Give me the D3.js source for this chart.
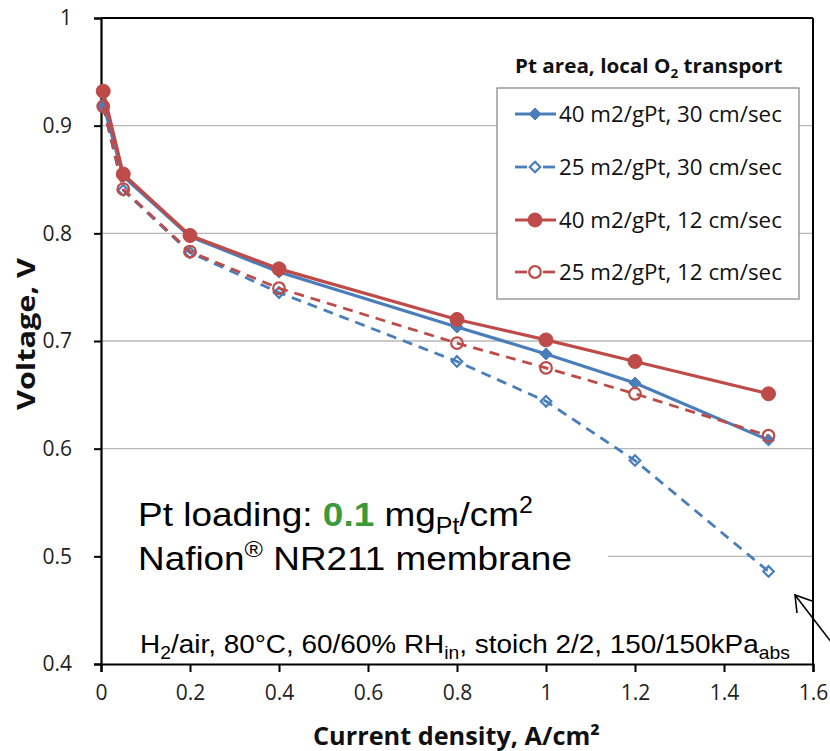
<!DOCTYPE html>
<html><head><meta charset="utf-8">
<script src="https://cdn.jsdelivr.net/npm/d3@7"></script>
<style>
html,body{margin:0;padding:0;background:#fff;}
svg{display:block;}
</style></head>
<body>
<svg id="chart" width="830" height="751"></svg>
<script>
// ---- data ----
const currentDensity = [0.005, 0.05, 0.2, 0.4, 0.8, 1.0, 1.2, 1.5];
const v40_30 = [0.920, 0.853, 0.797, 0.764, 0.713, 0.688, 0.661, 0.608];
const v25_30 = [0.918, 0.840, 0.782, 0.745, 0.681, 0.644, 0.589, 0.486];
const v40_12 = [0.932, 0.855, 0.798, 0.767, 0.720, 0.701, 0.681, 0.651];
const v25_12 = [0.918, 0.841, 0.783, 0.749, 0.698, 0.675, 0.651, 0.612];
const seriesNames = ["40 m2/gPt, 30 cm/sec", "25 m2/gPt, 30 cm/sec", "40 m2/gPt, 12 cm/sec", "25 m2/gPt, 12 cm/sec"];
const xTicks = [0, 0.2, 0.4, 0.6, 0.8, 1, 1.2, 1.4, 1.6];
const yTicks = [0.4, 0.5, 0.6, 0.7, 0.8, 0.9, 1];

const BLUE = "#4A7EBB", RED = "#BE4B48";
const series = [
  {name: seriesNames[0], values: v40_30, color: BLUE, dashed: false, marker: "diamond", filled: true},
  {name: seriesNames[1], values: v25_30, color: BLUE, dashed: true, marker: "diamond", filled: false},
  {name: seriesNames[2], values: v40_12, color: RED, dashed: false, marker: "circle", filled: true},
  {name: seriesNames[3], values: v25_12, color: RED, dashed: true, marker: "circle", filled: false}
];

const svg = d3.select("#chart");
const x = d3.scaleLinear().domain([0, 1.6]).range([101, 813]);
const y = d3.scaleLinear().domain([0.4, 1]).range([664, 18]);
const calib = "'Open Sans', Lato, sans-serif";
const arial = "'Liberation Sans', Arial, sans-serif";

// fit helper: horizontally scale text to a target width
function fit(t, x0, w) {
  const cw = t.node().getBBox().width;
  const k = w / cw;
  t.attr("transform", `translate(${x0},0) scale(${k},1) translate(${-x0},0)`);
}

// gridlines
svg.append("g").selectAll("line").data(yTicks.filter(t => t > 0.4 && t < 1)).join("line")
  .attr("x1", x(0)).attr("x2", x(1.6)).attr("y1", d => y(d)).attr("y2", d => y(d))
  .attr("stroke", "#b8b8b8").attr("stroke-width", 1.3);

// white box behind annotation (hides part of gridline)
svg.append("rect").attr("x", x(0) + 1).attr("y", 488).attr("width", 506).attr("height", 90).attr("fill", "#fff");

// frame top/right
svg.append("line").attr("x1", x(0)).attr("x2", x(1.6)).attr("y1", y(1)).attr("y2", y(1)).attr("stroke", "#000").attr("stroke-width", 2);
svg.append("line").attr("x1", x(1.6)).attr("x2", x(1.6)).attr("y1", y(1)).attr("y2", y(0.4)).attr("stroke", "#000").attr("stroke-width", 2);

// axes
const yAxis = d3.axisLeft(y).tickValues(yTicks).tickFormat(d => d3.format("")(+d.toFixed(1))).tickSize(7).tickPadding(22);
const gy = svg.append("g").attr("transform", `translate(${x(0)},0)`).call(yAxis);
const xAxis = d3.axisBottom(x).tickValues(xTicks).tickFormat(d => d3.format("")(+d.toFixed(1))).tickSize(8).tickPadding(13);
const gx = svg.append("g").attr("transform", `translate(0,${y(0.4)})`).call(xAxis);
[gx, gy].forEach(g => {
  g.select(".domain").attr("stroke", "#000").attr("stroke-width", 2.2);
  g.selectAll(".tick line").attr("stroke", "#000").attr("stroke-width", 2);
  g.selectAll(".tick text").attr("font-family", calib).attr("font-size", 21).attr("fill", "#222");
});

// axis titles
const xt = svg.append("text").attr("x", 313).attr("y", 745)
  .attr("font-family", calib).attr("font-weight", "bold").attr("font-size", 25).attr("fill", "#111")
  .text("Current density, A/cm²");
fit(xt, 313, 287);
const ytTitle = svg.append("text").attr("x", 0).attr("y", 0)
  .attr("font-family", calib).attr("font-weight", "bold").attr("font-size", 25).attr("fill", "#111")
  .text("Voltage, V");
{
  const w = ytTitle.node().getBBox().width;
  const k = 153 / w;
  ytTitle.attr("transform", `translate(35,410) rotate(-90) scale(${k},1)`);
}

// series
const line = d3.line().x((d, i) => x(currentDensity[i])).y(d => y(d));
const diamond = s => `M0,${-s}L${s},0L0,${s}L${-s},0Z`;
function drawMarker(g, s, cx, cy, legend) {
  if (s.marker === "circle") {
    g.append("circle").attr("cx", cx).attr("cy", cy).attr("r", s.filled ? 7 : 5.8)
      .attr("fill", s.filled ? s.color : (legend ? "#fff" : "none")).attr("stroke", s.color).attr("stroke-width", s.filled ? 1 : 2.2);
  } else {
    g.append("path").attr("d", diamond(s.filled ? 6 : 5.3)).attr("transform", `translate(${cx},${cy})`)
      .attr("fill", s.filled ? s.color : (legend ? "#fff" : "none")).attr("stroke", s.color).attr("stroke-width", s.filled ? 1 : 2.2);
  }
}
series.forEach(s => {
  const g = svg.append("g");
  g.append("path").datum(s.values).attr("d", line).attr("fill", "none")
    .attr("stroke", s.color).attr("stroke-width", s.dashed ? 2.8 : 3.2)
    .attr("stroke-dasharray", s.dashed ? "10,7" : null);
  s.values.forEach((v, i) => drawMarker(g, s, x(currentDensity[i]), y(v), false));
});

// legend
const lg = svg.append("g");
const lt = lg.append("text").attr("x", 515).attr("y", 73).attr("font-family", calib).attr("font-weight", "bold")
  .attr("font-size", 20).attr("fill", "#111")
  .call(t => {
    t.append("tspan").text("Pt area, local O");
    t.append("tspan").attr("dy", 5).attr("font-size", 13).text("2");
    t.append("tspan").attr("dy", -5).text(" transport");
  });
fit(lt, 515, 268);
lg.append("rect").attr("x", 497).attr("y", 88).attr("width", 302).attr("height", 211)
  .attr("fill", "#fff").attr("stroke", "#8c8c8c").attr("stroke-width", 1.3);
const legendY = [114, 167, 220, 272];
series.forEach((s, i) => {
  const ly = legendY[i];
  if (s.dashed) {
    lg.append("line").attr("x1", 515).attr("x2", 527).attr("y1", ly).attr("y2", ly).attr("stroke", s.color).attr("stroke-width", 2.8);
    lg.append("line").attr("x1", 543).attr("x2", 555).attr("y1", ly).attr("y2", ly).attr("stroke", s.color).attr("stroke-width", 2.8);
  } else {
    lg.append("line").attr("x1", 515).attr("x2", 556).attr("y1", ly).attr("y2", ly).attr("stroke", s.color).attr("stroke-width", 3.2);
  }
  drawMarker(lg, s, 535, ly, true);
  const tt = lg.append("text").attr("x", 559).attr("y", ly + 8).attr("font-family", calib).attr("font-size", 21)
    .attr("fill", "#111").text(s.name);
  fit(tt, 559, 223);
});

// annotations
const t1 = svg.append("text").attr("x", 138).attr("y", 526).attr("font-family", arial).attr("font-size", 34).attr("fill", "#000");
t1.append("tspan").text("Pt loading: ");
t1.append("tspan").attr("fill", "#3a9a3a").attr("font-weight", "bold").text("0.1");
t1.append("tspan").text(" mg");
t1.append("tspan").attr("dy", 8).attr("font-size", 23).text("Pt");
t1.append("tspan").attr("dy", -8).text("/cm");
t1.append("tspan").attr("dy", -13).attr("font-size", 23).text("2");
fit(t1, 138, 395);

const t2 = svg.append("text").attr("x", 138).attr("y", 570).attr("font-family", arial).attr("font-size", 34).attr("fill", "#000");
t2.append("tspan").text("Nafion");
t2.append("tspan").attr("dy", -13).attr("font-size", 23).text("®");
t2.append("tspan").attr("dy", 13).text(" NR211 membrane");
fit(t2, 138, 434);

const t3 = svg.append("text").attr("x", 140).attr("y", 653).attr("font-family", arial).attr("font-size", 26).attr("fill", "#000");
t3.append("tspan").text("H");
t3.append("tspan").attr("dy", 6).attr("font-size", 18).text("2");
t3.append("tspan").attr("dy", -6).text("/air, 80°C, 60/60% RH");
t3.append("tspan").attr("dy", 6).attr("font-size", 18).text("in");
t3.append("tspan").attr("dy", -6).text(", stoich 2/2, 150/150kPa");
t3.append("tspan").attr("dy", 6).attr("font-size", 18).text("abs");
fit(t3, 140, 650);

// arrow at bottom right
const arrow = svg.append("g").attr("stroke", "#000").attr("stroke-width", 1.6).attr("fill", "none");
arrow.append("line").attr("x1", 795).attr("y1", 595).attr("x2", 845).attr("y2", 660);
arrow.append("polyline").attr("points", "797,613 795,595 812,601");
</script>
</body></html>
